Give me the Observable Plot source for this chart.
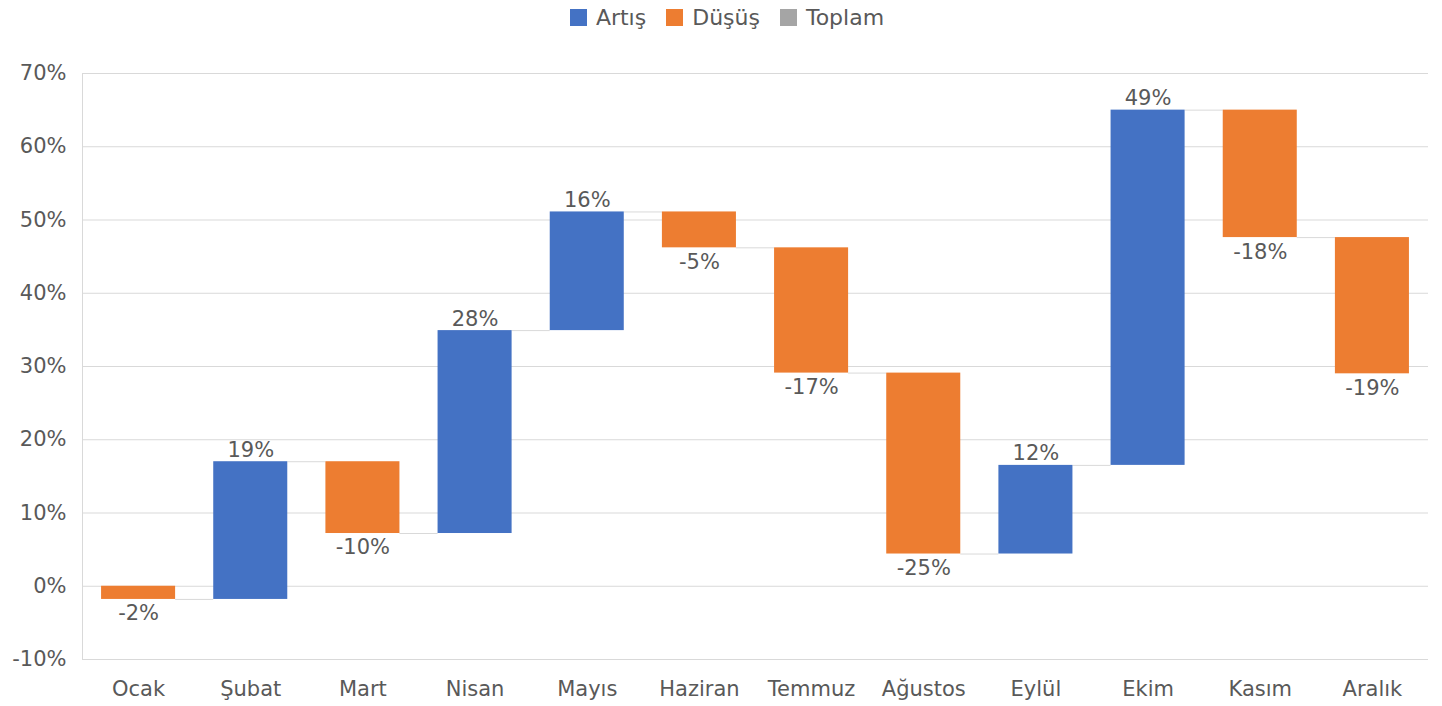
<!DOCTYPE html>
<html><head><meta charset="utf-8">
<script src="https://cdn.jsdelivr.net/npm/d3@7"></script>
<script src="https://cdn.jsdelivr.net/npm/@observablehq/plot@0.6"></script>
<style>
body{margin:0;background:#fff;font-family:"DejaVu Sans",sans-serif;}
#legend{height:34px;display:flex;justify-content:center;align-items:center;gap:20px;font-size:22px;color:#595959;padding-left:12px;box-sizing:border-box;}
#legend span.sw{display:inline-block;width:17px;height:17px;margin-right:9px;vertical-align:-1px;}
</style></head>
<body>
<div id="legend"></div>
<div id="chart"></div>
<script>
const months = ["Ocak","Şubat","Mart","Nisan","Mayıs","Haziran","Temmuz","Ağustos","Eylül","Ekim","Kasım","Aralık"];
const changes = [-1.8, 18.8, -9.8, 27.7, 16.2, -4.9, -17.1, -24.7, 12.1, 48.5, -17.4, -18.6];
const labels = ["-2%","19%","-10%","28%","16%","-5%","-17%","-25%","12%","49%","-18%","-19%"];
const legendNames = ["Artış","Düşüş","Toplam"];
const legendColors = ["#4472C4","#ED7D31","#A5A5A5"];
const yTicks = [-10,0,10,20,30,40,50,60,70];

const lg = document.getElementById("legend");
legendNames.forEach((n,i)=>{
  const d=document.createElement("div");
  d.innerHTML=`<span class="sw" style="background:${legendColors[i]}"></span>${n}`;
  lg.appendChild(d);
});

let run = 0;
const data = changes.map((c,i)=>{
  const start = run; run += c;
  return {i, month: months[i], start, end: run, change: c, label: labels[i], type: c >= 0 ? "Artış" : "Düşüş"};
});
const hw = 0.33;
const connectors = data.slice(0,-1).map(d=>({x1: d.i + hw, x2: d.i + 1 - hw, y: d.end}));

const chart = Plot.plot({
  width: 1442, height: 672,
  marginLeft: 82, marginRight: 14, marginTop: 39, marginBottom: 47,
  style: {fontFamily: "'DejaVu Sans', sans-serif", fontSize: "21px", color: "#595959", background: "#fff"},
  x: {type: "linear", domain: [-0.5, 11.5], ticks: d3.range(12), tickFormat: i => months[i], tickSize: 0, tickPadding: 22, label: null},
  y: {domain: [-10, 70], ticks: yTicks, tickFormat: d => d + "%", tickSize: 0, tickPadding: 16, label: null},
  color: {domain: ["Artış","Düşüş"], range: ["#4472C4","#ED7D31"]},
  marks: [
    Plot.gridY(yTicks, {stroke: "#d9d9d9", strokeOpacity: 1, strokeWidth: 1}),
    Plot.ruleX([-0.5], {stroke: "#d9d9d9", y1: -10, y2: 70}),
    Plot.ruleY(connectors, {x1: "x1", x2: "x2", y: "y", stroke: "#d9d9d9", strokeWidth: 1}),
    Plot.rectY(data, {x1: d => d.i - hw, x2: d => d.i + hw, y1: "start", y2: "end", fill: "type"}),
    Plot.text(data.filter(d=>d.change>=0), {x: "i", y: "end", text: "label", dy: -5, lineAnchor: "bottom", fill: "#595959", fontSize: 21}),
    Plot.text(data.filter(d=>d.change<0), {x: "i", y: "end", text: "label", dy: 6, lineAnchor: "top", fill: "#595959", fontSize: 21})
  ]
});
document.getElementById("chart").appendChild(chart);
</script>
</body></html>
